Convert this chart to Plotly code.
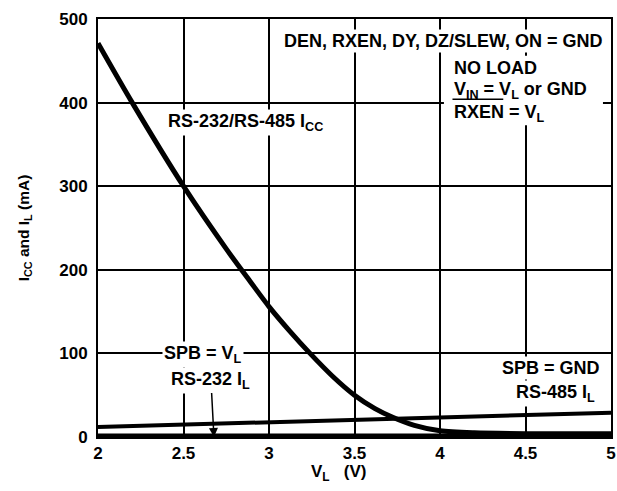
import plotly.graph_objects as go

# Data
vl_icc = [2.0, 2.2, 2.5, 2.75, 2.89, 3.0, 3.12, 3.24, 3.37, 3.5, 3.62, 3.72, 3.85, 4.0, 4.2, 4.5, 5.0]
icc = [471, 400, 300, 225, 186, 156, 127, 100, 73, 50, 34, 24, 14, 7.5, 5, 4, 4]

vl_il232 = [2.0, 5.0]
il232 = [12, 29]

vl_il485 = [2.0, 5.0]
il485 = [0, 0]

x_ticks = [2, 2.5, 3, 3.5, 4, 4.5, 5]
x_tick_text = ["2", "2.5", "3", "3.5", "4", "4.5", "5"]
y_ticks = [0, 100, 200, 300, 400, 500]

FONT = "Arial, Liberation Sans, sans-serif"

fig = go.Figure()
fig.add_trace(go.Scatter(x=vl_il485, y=il485, mode="lines",
                         line=dict(color="black", width=7), cliponaxis=False,
                         hoverinfo="skip"))
fig.add_trace(go.Scatter(x=vl_il232, y=il232, mode="lines",
                         line=dict(color="black", width=4), cliponaxis=False,
                         hoverinfo="skip"))
fig.add_trace(go.Scatter(x=vl_icc, y=icc, mode="lines",
                         line=dict(color="black", width=5, shape="spline", smoothing=0.8),
                         cliponaxis=False, hoverinfo="skip"))

ann_font = dict(family=FONT, size=18, color="black")

def label(x, y, text, xanchor="center", bg="white"):
    fig.add_annotation(x=x, y=y, text="<b>" + text + "</b>", showarrow=False,
                       xanchor=xanchor, yanchor="middle", bgcolor=bg,
                       font=ann_font, borderpad=1)

# white backing for the condition block (breaks the grid like the original)
fig.add_shape(type="rect", xref="x", yref="y", x0=4.023, x1=4.953, y0=373, y1=456,
              fillcolor="white", line=dict(width=0), layer="above")
# overbar of RXEN
fig.add_shape(type="line", xref="x", yref="y", x0=4.073, x1=4.37, y0=404, y1=404,
              line=dict(color="black", width=1.5), layer="above")

label(2.86, 376, "RS-232/RS-485 I<sub>CC</sub>")
label(4.965, 474, "DEN, RXEN, DY, DZ/SLEW, ON = GND", xanchor="right")
label(4.07, 441, "NO LOAD", xanchor="left", bg="rgba(0,0,0,0)")
label(4.07, 414, "V<sub>IN</sub> = V<sub>L</sub> or GND", xanchor="left", bg="rgba(0,0,0,0)")
label(4.07, 387, "RXEN = V<sub>L</sub>", xanchor="left", bg="rgba(0,0,0,0)")
label(2.614, 99, "SPB = V<sub>L</sub>")
label(4.649, 83, "SPB = GND")
label(4.673, 52, "RS-485 I<sub>L</sub>")

fig.add_annotation(x=2.678, y=0, text="<b>RS-232 I<sub>L</sub></b>", showarrow=True,
                   ax=-3, ay=-57, arrowhead=2, arrowsize=1.2, arrowwidth=1.5,
                   arrowcolor="black", bgcolor="white", font=ann_font, borderpad=1)

# x-axis title
fig.add_annotation(xref="paper", yref="paper", x=0.468, y=-0.086,
                   text="<b>V<sub>L</sub>   (V)</b>", showarrow=False,
                   xanchor="center", yanchor="middle",
                   font=dict(family=FONT, size=17, color="black"))

axis_common = dict(showgrid=True, gridcolor="black", gridwidth=2,
                   showline=True, linecolor="black", linewidth=2, mirror=True,
                   zeroline=False, tickcolor="rgba(0,0,0,0)",
                   tickfont=dict(family=FONT, size=17, color="black", weight="bold"))

fig.update_xaxes(range=[2, 5], tickvals=x_ticks, ticktext=x_tick_text,
                 ticks="", **axis_common)
fig.update_yaxes(range=[0, 500], tickvals=y_ticks, ticks="outside", ticklen=5,
                 title=dict(text="<b>I<sub>CC</sub> and I<sub>L</sub> (mA)</b>", standoff=26,
                            font=dict(family=FONT, size=15.5, color="black")),
                 **axis_common)

fig.update_layout(width=617, height=491, showlegend=False,
                  plot_bgcolor="white", paper_bgcolor="white",
                  margin=dict(l=98, r=6, t=19, b=54, autoexpand=False),
                  font=dict(family=FONT, color="black"))

fig.write_html("out.html", config={"displayModeBar": False},
               post_script="document.body.style.margin='0';document.body.style.padding='0';")
